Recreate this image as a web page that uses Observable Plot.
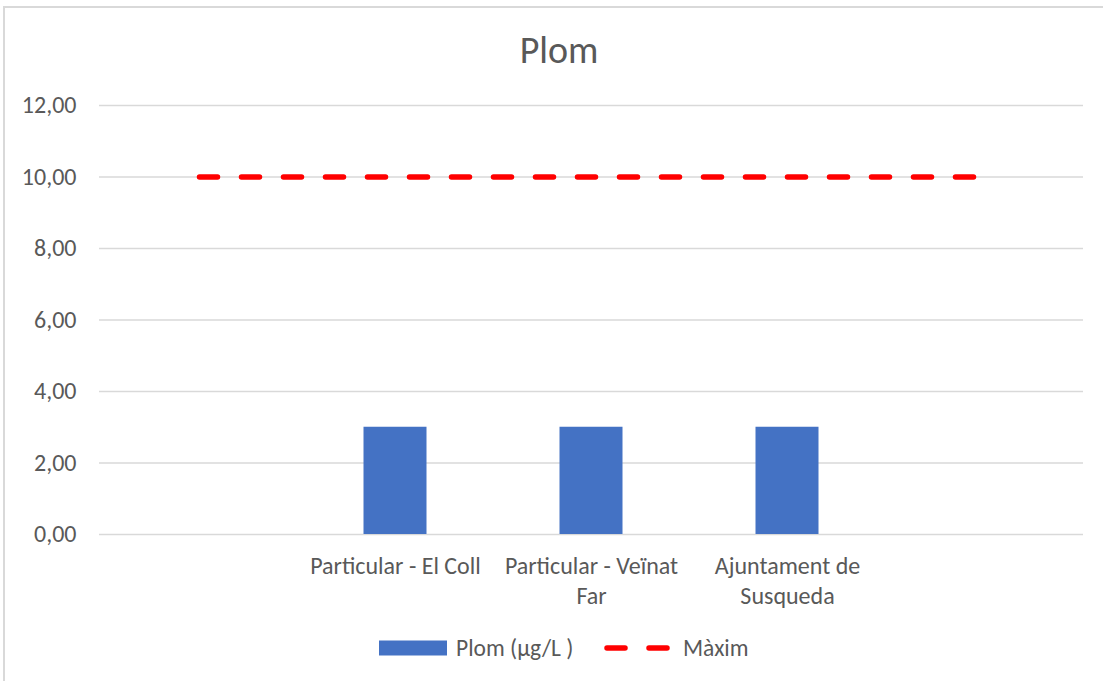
<!DOCTYPE html>
<html>
<head>
<meta charset="utf-8">
<script src="https://cdn.jsdelivr.net/npm/d3@7"></script>
<script src="https://cdn.jsdelivr.net/npm/@observablehq/plot@0.6"></script>
<style>
  html, body { margin: 0; padding: 0; background: #fff; }
  #wrap { position: relative; width: 1103px; height: 681px; overflow: hidden; font-family: Carlito, Calibri, Lato, sans-serif; color: #595959; }
  #border { position: absolute; left: 3px; top: 6px; width: 1120px; height: 700px; border: 2px solid #d9d9d9; box-sizing: border-box; }
  #title { position: absolute; left: 0; width: 1118px; top: 30px; text-align: center; font-size: 38px; line-height: 40px; }
  #chart { position: absolute; left: 0; top: 0; }
  #legend { position: absolute; top: 636px; left: 0; height: 24px; }
  .li { position: absolute; top: 0; height: 24px; display: flex; align-items: center; font-size: 23.5px; white-space: nowrap; }
</style>
</head>
<body>
<div id="wrap">
  <div id="border"></div>
  <div id="chart"></div>
  <div id="title">Plom</div>
  <div id="legend"></div>
</div>
<script>
const categories = ["", "Particular - El Coll", "Particular - Veïnat\nFar", "Ajuntament de\nSusqueda", ""];
const plomValues = [null, 3, 3, 3, null];
const maximValues = [10, 10, 10, 10, 10];
const yTicks = [0, 2, 4, 6, 8, 10, 12];
const seriesNames = ["Plom (µg/L )", "Màxim"];

const idx = categories.map((c, i) => i);
const bars = idx.filter(i => plomValues[i] != null).map(i => ({i, v: plomValues[i]}));
const line = idx.map(i => ({i, v: maximValues[i]}));
const fmt = d => d.toFixed(2).replace(".", ",");
const font = "Carlito, Calibri, Lato, sans-serif";

const chart = Plot.plot({
  width: 1103,
  height: 620,
  marginTop: 105,
  marginBottom: 86,
  marginLeft: 99,
  marginRight: 20,
  style: {fontFamily: font, background: "transparent", overflow: "visible"},
  x: {type: "band", domain: idx, padding: 0},
  y: {domain: [0, 12]},
  marks: [
    Plot.gridY(yTicks, {stroke: "#d9d9d9", strokeOpacity: 1, strokeWidth: 1.3}),
    Plot.axisY(yTicks, {tickSize: 0, tickPadding: 23, tickFormat: fmt, fontSize: 24, fill: "#595959", label: null}),
    Plot.axisX(idx, {tickSize: 0, tickPadding: 18, tickFormat: i => categories[i], fontSize: 24, lineHeight: 1.25, fill: "#595959", label: null}),
    Plot.barY(bars, {x: "i", y: "v", fill: "#4472c4", insetLeft: 66.5, insetRight: 66.5}),
    Plot.lineY(line, {x: "i", y: "v", stroke: "#ff0000", strokeWidth: 5.5, strokeDasharray: "18 24", strokeLinecap: "round"})
  ]
});
document.getElementById("chart").appendChild(chart);

const legend = document.getElementById("legend");
const items = [
  {left: 379, sw: `<svg width="68" height="16"><rect x="0" y="0.5" width="68" height="15" fill="#4472c4"/></svg>`, name: seriesNames[0], gap: 9},
  {left: 604, sw: `<svg width="66" height="16"><line x1="3" y1="8" x2="63" y2="8" stroke="#ff0000" stroke-width="5.5" stroke-linecap="round" stroke-dasharray="18 24"/></svg>`, name: seriesNames[1], gap: 13}
];
items.forEach(it => {
  const d = document.createElement("div");
  d.className = "li";
  d.style.left = it.left + "px";
  d.innerHTML = it.sw + `<span style="margin-left:${it.gap}px">${it.name}</span>`;
  legend.appendChild(d);
});
</script>
</body>
</html>
